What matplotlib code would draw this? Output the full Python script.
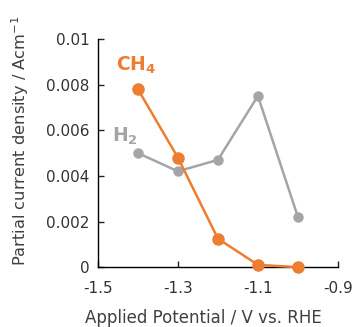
import matplotlib
matplotlib.use("Agg")
import matplotlib.pyplot as plt

potential = [-1.4, -1.3, -1.2, -1.1, -1.0]
ch4 = [0.0078, 0.0048, 0.00125, 0.0001, 0.0]
h2 = [0.0050, 0.0042, 0.0047, 0.0075, 0.0022]
xticks = [-1.5, -1.3, -1.1, -0.9]
xtick_labels = ["-1.5", "-1.3", "-1.1", "-0.9"]
yticks = [0, 0.002, 0.004, 0.006, 0.008, 0.01]
ytick_labels = ["0", "0.002", "0.004", "0.006", "0.008", "0.01"]

orange = "#ED7D31"
gray = "#A5A5A5"

plt.rcParams['font.family'] = ['DejaVu Sans']
fig = plt.figure(figsize=(3.52, 3.27), dpi=100)
ax = fig.add_axes([0.278, 0.183, 0.682, 0.698])

ax.plot(potential, h2, color=gray, marker='o', markersize=6.5, linewidth=1.8, clip_on=False, zorder=2)
ax.plot(potential, ch4, color=orange, marker='o', markersize=8, linewidth=1.8, clip_on=False, zorder=3)

ax.set_xlim(-1.5, -0.9)
ax.set_ylim(0, 0.01)
ax.set_xticks(xticks)
ax.set_xticklabels(xtick_labels)
ax.set_yticks(yticks)
ax.set_yticklabels(ytick_labels)
for s in ['top', 'right']:
    ax.spines[s].set_visible(False)
for s in ['left', 'bottom']:
    ax.spines[s].set_linewidth(1.0)
ax.tick_params(direction='in', length=4, width=1.0, labelsize=11, colors='#222222', labelcolor='#333333')
ax.tick_params(axis='x', pad=10)
ax.tick_params(axis='y', pad=6)

ax.set_xlabel("Applied Potential / V vs. RHE", fontsize=12, color='#404040')
ax.xaxis.set_label_coords(0.44, -0.185)
ax.set_ylabel("Partial current density / Acm$^{-1}$", fontsize=11.7, color='#404040')
ax.yaxis.set_label_coords(-0.28, 0.555)

ax.text(-1.455, 0.0086, "CH$_\\mathbf{4}$", color=orange, fontsize=13.5, fontweight='bold')
ax.text(-1.465, 0.0055, "H$_\\mathbf{2}$", color=gray, fontsize=13.5, fontweight='bold')

fig.savefig("out.png", dpi=100)
